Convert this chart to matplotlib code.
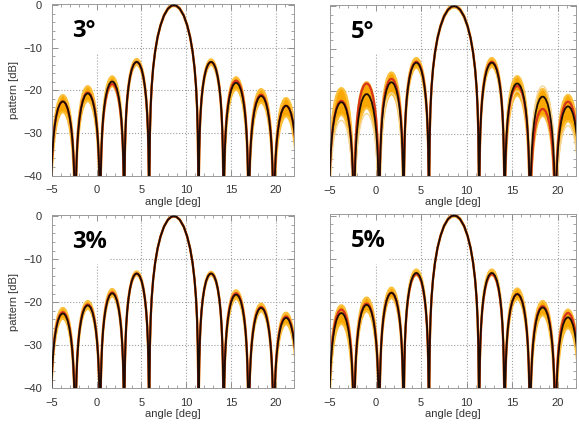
import numpy as np
import matplotlib.pyplot as plt
from matplotlib.ticker import MultipleLocator

plt.rcParams['font.family'] = ['Liberation Sans', 'DejaVu Sans']

# nominal pattern: null positions [deg] and lobe peak levels [dB]
nulls = [-5.15, -2.37, 0.40, 3.08, 5.86, 11.36, 14.15, 16.94, 19.73, 22.5]
peaks = [-22.6, -20.7, -17.9, -13.3, 0.0, -13.3, -18.2, -21.3, -23.6]

# lobe shape: fraction across the lobe -> dB below its peak
lobe_t = [0, 0.005, 0.015, 0.03, 0.05, 0.08, 0.12, 0.17, 0.23, 0.30, 0.38, 0.45, 0.5,
          0.55, 0.62, 0.70, 0.77, 0.83, 0.88, 0.92, 0.95, 0.97, 0.985, 0.995, 1]
side_db = [-60, -36.1, -26.5, -20.5, -16.1, -12.1, -8.7, -5.9, -3.6, -1.8, -0.6, -0.1, 0.0,
           -0.1, -0.6, -1.8, -3.6, -5.9, -8.7, -12.1, -16.1, -20.5, -26.5, -36.1, -60]
main_db = [-60, -39.9, -30.2, -23.9, -19.2, -14.8, -10.9, -7.5, -4.7, -2.4, -0.8, -0.1, 0.0,
           -0.1, -0.8, -2.4, -4.7, -7.5, -10.9, -14.8, -19.2, -23.9, -30.2, -39.9, -60]

# per-lobe spread of the perturbed patterns around the nominal one [dB]
titles = ['3°', '5°', '3%', '5%']
band_hi = [[1.5, 1.7, 1.2, 0.7, 0.2, 0.6, 1.3, 1.6, 1.8],
           [3.3, 2.8, 2.3, 1.1, 0.3, 1.1, 1.7, 1.8, 2.7],
           [1.3, 1.0, 1.0, 0.5, 0.1, 0.4, 1.0, 1.0, 1.2],
           [1.8, 1.7, 1.2, 0.8, 0.2, 0.8, 1.3, 1.5, 1.8]]
band_lo = [[-2.5, -1.8, -1.1, -0.7, -0.2, -0.7, -1.6, -1.6, -2.5],
           [-3.0, -3.3, -2.8, -1.2, -0.3, -1.0, -2.8, -4.5, -3.5],
           [-1.2, -0.8, -0.7, -0.4, -0.1, -0.4, -1.0, -0.8, -1.5],
           [-2.5, -1.5, -1.2, -0.5, -0.2, -0.5, -1.2, -1.8, -2.5]]
red_off = [[0.0, 0.2, -0.6, 0.0, 0.0, 0.0, 0.5, 0.3, 0.0],
           [0.3, 2.5, 0.8, 0.2, 0.0, 0.2, -0.6, -2.9, 1.1],
           [0.3, 0.2, 0.2, 0.0, 0.0, 0.0, 0.3, 0.2, 0.3],
           [0.8, 0.3, 0.0, -0.3, 0.0, -0.3, 0.0, 0.3, 1.0]]
pale_off = [None,
            [-4.3, -4.6, -2.5, 0.0, 0.0, 0.0, -1.8, 2.5, -4.5],
            None,
            None]


def pattern(offsets):
    xs, ys = [], []
    for i in range(len(peaks)):
        prof = main_db if i == 4 else side_db
        for t, d in zip(lobe_t, prof):
            xs.append(nulls[i] + t * (nulls[i + 1] - nulls[i]))
            ys.append(peaks[i] + offsets[i] + d)
    return np.array(xs), np.array(ys)


fig = plt.figure(figsize=(5.79, 4.26), dpi=100)
rects = [[0.0893, 0.588, 0.4185, 0.4026],
         [0.570, 0.587, 0.4249, 0.4014],
         [0.0893, 0.0885, 0.4185, 0.4068],
         [0.570, 0.0892, 0.4249, 0.4077]]

zero = [0] * len(peaks)
for k, r in enumerate(rects):
    ax = fig.add_axes(r)
    ax.set_xlim(-5, 22)
    ax.set_ylim(-40, 0.3)

    # dotted grid, hidden behind the label box in the upper left
    for gx in [5, 10, 15, 20]:
        ax.axvline(gx, color='#a0a0a0', ls=':', lw=0.8, zorder=0.5)
    ax.vlines(0, -40, -11.2, color='#a0a0a0', ls=':', lw=0.8, zorder=0.5)
    ax.hlines(-10, 1.5, 22, color='#a0a0a0', ls=':', lw=0.8, zorder=0.5)
    for gy in [-20, -30]:
        ax.axhline(gy, color='#a0a0a0', ls=':', lw=0.8, zorder=0.5)

    x, hi = pattern(band_hi[k])
    _, lo = pattern(band_lo[k])
    ax.fill_between(x, lo, hi, color='#f8a800', lw=0, zorder=2)
    ax.plot(x, hi, color='#fbbf3a', lw=1.6, zorder=2)
    ax.plot(x, lo, color='#fbbf3a', lw=1.6, zorder=2)
    if pale_off[k] is not None:
        _, pale = pattern(pale_off[k])
        ax.plot(x, pale, color='#f6d79a', lw=1.0, zorder=2.1)
    _, red = pattern(red_off[k])
    ax.plot(x, red, color='#d8341a', lw=1.6, zorder=2.2)
    _, nom = pattern(zero)
    ax.plot(x, nom, color='#1c0c06', lw=1.3, zorder=3)

    ax.text(-2.7, -6.0, titles[k], fontsize=17, fontweight='bold',
            family=['Open Sans', 'DejaVu Sans'], va='center', ha='left', zorder=4)

    ax.xaxis.set_major_locator(MultipleLocator(5))
    ax.xaxis.set_minor_locator(MultipleLocator(1))
    ax.yaxis.set_major_locator(MultipleLocator(10))
    ax.yaxis.set_minor_locator(MultipleLocator(2))
    ax.tick_params(which='both', direction='in', top=True, right=True,
                   color='#808080', labelsize=8, labelcolor='#333333')
    ax.tick_params(which='major', length=4, width=0.6)
    ax.tick_params(which='minor', length=2, width=0.5)
    ax.tick_params(axis='x', pad=7)
    ax.tick_params(axis='y', pad=7)
    for s in ax.spines.values():
        s.set_color('#9a9a9a')
        s.set_linewidth(0.7)

    ax.set_xlabel('angle [deg]', fontsize=8, color='#333333', labelpad=1)
    if k % 2 == 0:
        ax.set_ylabel('pattern [dB]', fontsize=8, color='#333333', labelpad=3)
    else:
        ax.tick_params(axis='y', labelleft=False)

fig.savefig('out.png', dpi=100)
